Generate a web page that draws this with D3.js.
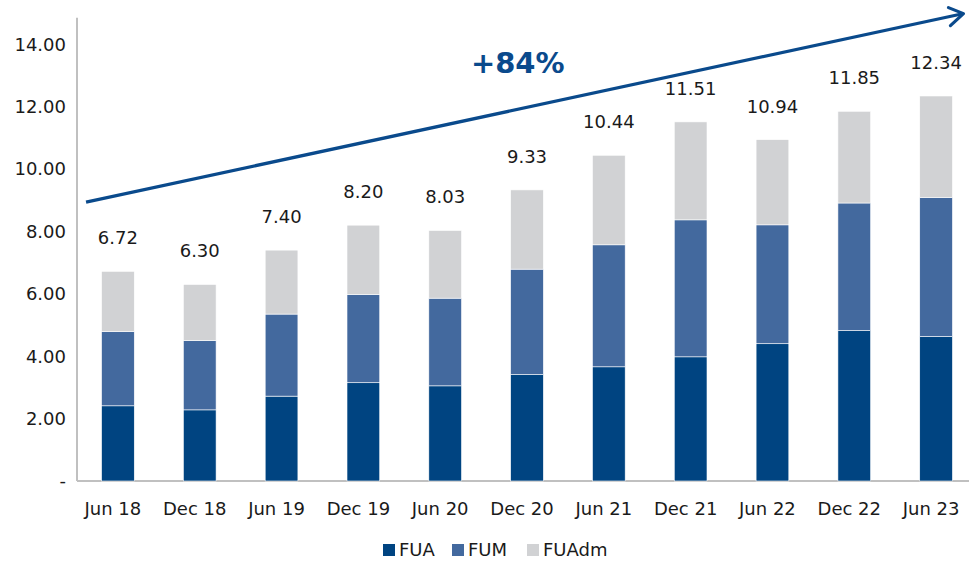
<!DOCTYPE html>
<html>
<head>
<meta charset="utf-8">
<script src="https://cdn.jsdelivr.net/npm/d3@7/dist/d3.min.js"></script>
<style>
  body { margin: 0; background: #fff; }
  text { font-family: "DejaVu Sans", sans-serif; fill: #1a1a1a; }
</style>
</head>
<body>
<div id="chart"></div>
<script>
const categories = ['Jun 18', 'Dec 18', 'Jun 19', 'Dec 19', 'Jun 20', 'Dec 20', 'Jun 21', 'Dec 21', 'Jun 22', 'Dec 22', 'Jun 23'];
const fua   = [2.41, 2.28, 2.72, 3.15, 3.05, 3.41, 3.66, 3.98, 4.40, 4.82, 4.63];
const fum   = [2.38, 2.22, 2.63, 2.83, 2.81, 3.38, 3.91, 4.39, 3.81, 4.09, 4.46];
const fuadm = [1.93, 1.80, 2.05, 2.22, 2.17, 2.54, 2.87, 3.14, 2.73, 2.94, 3.25];
const totalLabels = ['6.72', '6.30', '7.40', '8.20', '8.03', '9.33', '10.44', '11.51', '10.94', '11.85', '12.34'];
const yTicks = [0, 2, 4, 6, 8, 10, 12, 14];
const seriesNames = ['FUA', 'FUM', 'FUAdm'];
const trendValues = [8.94, 14.98];
const trendLabel = '+84%';

(function() {
    const width = 969,
          height = 565;

    const colors = ['#004481', '#43699e', '#d1d2d4'];

    const rows = categories.map((c, i) => ({ cat: c, FUA: fua[i], FUM: fum[i], FUAdm: fuadm[i], label: totalLabels[i] }));

    const xScale = d3.scaleBand()
                    .domain(categories)
                    .range([77, 977])
                    .paddingInner(0.6)
                    .paddingOuter(0.3);

    const yScale = d3.scaleLinear()
                    .domain([0, 14])
                    .range([481, 44.2]);

    const svg = d3.select('#chart')
        .append('svg')
        .attr('width', width)
        .attr('height', height);

    // axis lines
    svg.append('line')
        .attr('x1', 77).attr('x2', 77)
        .attr('y1', yScale(0)).attr('y2', yScale(14.85))
        .attr('stroke', '#c0c0c0').attr('stroke-width', 2);

    svg.append('line')
        .attr('x1', 77).attr('x2', width)
        .attr('y1', yScale(0)).attr('y2', yScale(0))
        .attr('stroke', '#c0c0c0').attr('stroke-width', 2);

    // y tick labels
    svg.selectAll('.ytick')
        .data(yTicks)
        .enter().append('text')
        .attr('class', 'ytick')
        .attr('x', 66)
        .attr('y', d => yScale(d))
        .attr('dy', '0.35em')
        .attr('text-anchor', 'end')
        .style('font-size', '18px')
        .text(d => d === 0 ? '-' : d.toFixed(2));

    // stacked bars
    const stacked = d3.stack().keys(seriesNames)(rows);

    svg.selectAll('.series')
        .data(stacked)
        .enter().append('g')
        .attr('fill', (d, i) => colors[i])
        .selectAll('rect')
        .data(d => d)
        .enter().append('rect')
        .attr('x', d => xScale(d.data.cat))
        .attr('width', xScale.bandwidth())
        .attr('y', d => yScale(d[1]))
        .attr('height', d => yScale(d[0]) - yScale(d[1]))
        .attr('stroke', '#fff')
        .attr('stroke-width', 0.6);

    // total labels
    svg.selectAll('.total')
        .data(rows)
        .enter().append('text')
        .attr('class', 'total')
        .attr('x', d => xScale(d.cat) + xScale.bandwidth() / 2)
        .attr('y', d => yScale(d.FUA + d.FUM + d.FUAdm) - 27)
        .attr('text-anchor', 'middle')
        .style('font-size', '18px')
        .text(d => d.label);

    // x labels
    svg.selectAll('.xlabel')
        .data(categories)
        .enter().append('text')
        .attr('class', 'xlabel')
        .attr('x', d => xScale(d) + xScale.bandwidth() / 2 - 5)
        .attr('y', 515)
        .attr('text-anchor', 'middle')
        .style('font-size', '18px')
        .text(d => d);

    // trend arrow
    const x0 = xScale(categories[0]) - 15.5,
          x1 = xScale(categories[categories.length - 1]) + xScale.bandwidth() + 11,
          y0 = yScale(trendValues[0]),
          y1 = yScale(trendValues[1]);

    svg.append('line')
        .attr('x1', x0).attr('y1', y0)
        .attr('x2', x1 - 2).attr('y2', y1 + 0.4)
        .attr('stroke', '#0a4a8c').attr('stroke-width', 3.2);

    svg.append('polyline')
        .attr('points', [[x1 - 15, y1 - 6], [x1, y1], [x1 - 13, y1 + 12]].map(p => p.join(',')).join(' '))
        .attr('fill', 'none')
        .attr('stroke', '#0a4a8c')
        .attr('stroke-width', 3.2)
        .attr('stroke-linecap', 'round')
        .attr('stroke-linejoin', 'round');

    svg.append('text')
        .attr('x', (x0 + x1) / 2 - 7)
        .attr('y', 73)
        .attr('text-anchor', 'middle')
        .style('font-size', '29px')
        .style('font-weight', 'bold')
        .style('fill', '#0a4a8c')
        .text(trendLabel);

    // legend
    const legendX = [383, 452, 527];
    const legend = svg.selectAll('.legend')
        .data(seriesNames)
        .enter().append('g')
        .attr('transform', (d, i) => `translate(${legendX[i]}, 550)`);

    legend.append('rect')
        .attr('x', 0).attr('y', -6)
        .attr('width', 12).attr('height', 12)
        .attr('fill', (d, i) => colors[i]);

    legend.append('text')
        .attr('x', 16)
        .attr('dy', '0.35em')
        .style('font-size', '18px')
        .text(d => d);
})();
</script>
</body>
</html>
